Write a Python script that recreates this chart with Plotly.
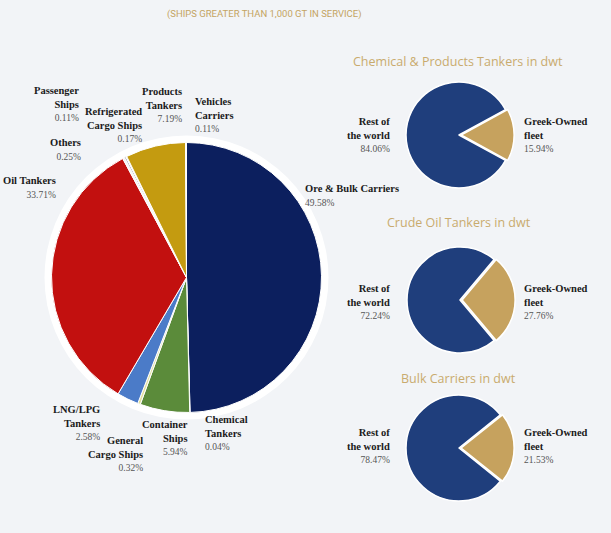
import plotly.graph_objects as go

W, H = 611, 533

# ---------------- data ----------------
fleet_categories = ["Ore & Bulk Carriers", "Chemical Tankers", "Container Ships",
                    "General Cargo Ships", "LNG/LPG Tankers", "Oil Tankers", "Others",
                    "Refrigerated Cargo Ships", "Passenger Ships", "Products Tankers",
                    "Vehicles Carriers"]
fleet_shares = [49.58, 0.04, 5.94, 0.32, 2.58, 33.71, 0.25, 0.17, 0.11, 7.19, 0.11]
fleet_label_names = ["Ore & Bulk Carriers", "Chemical<br>Tankers", "Container<br>Ships",
                     "General<br>Cargo Ships", "LNG/LPG<br>Tankers", "Oil Tankers",
                     "Others", "Refrigerated<br>Cargo Ships", "Passenger<br>Ships",
                     "Products<br>Tankers", "Vehicles<br>Carriers"]

share_categories = ["Greek-Owned fleet", "Rest of the world"]
chem_products_dwt = [15.94, 84.06]
crude_oil_dwt = [27.76, 72.24]
bulk_carriers_dwt = [21.53, 78.47]
small_titles = ["Chemical & Products Tankers in dwt", "Crude Oil Tankers in dwt",
                "Bulk Carriers in dwt"]
subtitle = "(SHIPS GREATER THAN 1,000 GT IN SERVICE)"

# ---------------- styling ----------------
BG = "#f2f4f7"
GOLD_T = "#c9ab6e"
fleet_colors = ["#0c1f5e", "#e9e9e9", "#5b8b3a", "#e2e09c", "#4b7bc8", "#c2100f",
                "#f4f4f4", "#7a7a90", "#ffffff", "#c49b10", "#e6e6e6"]
small_colors = ["#c6a25e", "#1f3e7c"]

def px_dom(cx, cy, r):
    """domain from pixel centre/radius (y measured from top)"""
    return dict(x=[(cx - r) / W, (cx + r) / W],
                y=[(H - cy - r) / H, (H - cy + r) / H])

fig = go.Figure()

# main pie
fig.add_trace(go.Pie(
    labels=fleet_categories, values=fleet_shares, sort=False,
    direction="clockwise", rotation=0,
    marker=dict(colors=fleet_colors, line=dict(color="white", width=1)),
    textinfo="none", hoverinfo="label+percent", showlegend=False,
    domain=px_dom(186.5, 277.5, 135)))

small_sets = [chem_products_dwt, crude_oil_dwt, bulk_carriers_dwt]
small_centres = [(459, 135), (460, 300), (459, 448)]
PULL = 0.04
for vals, (cx, cy) in zip(small_sets, small_centres):
    ang = vals[0] / sum(vals) * 360
    fig.add_trace(go.Pie(
        labels=share_categories, values=vals, sort=False,
        direction="clockwise", rotation=90 - ang / 2,
        pull=[PULL, 0],
        marker=dict(colors=small_colors, line=dict(color="white", width=1.5)),
        textinfo="none", hoverinfo="label+percent", showlegend=False,
        domain=px_dom(cx, cy, 53 * (1 + PULL))))

# white halo around main pie
hr = 142
fig.add_shape(type="circle", xref="paper", yref="paper", layer="below",
              x0=(186.5 - hr) / W, x1=(186.5 + hr) / W,
              y0=(H - 277.5 - hr) / H, y1=(H - 277.5 + hr) / H,
              fillcolor="white", line=dict(width=0))

NAME_FONT = dict(family="Liberation Serif", size=10.5, color="#1b1b1b")

def lab(name, pct, x, y, anchor):
    fig.add_annotation(
        text=f"<b>{name}</b><br><span style='font-size:9.5px;color:#555'>{pct:.2f}%</span>",
        x=x / W, y=1 - y / H, xref="paper", yref="paper",
        xanchor=anchor, yanchor="middle", align=anchor, showarrow=False,
        font=NAME_FONT)

# label anchor positions (pixels) for main pie labels
fleet_label_pos = [(303, 196, "left"), (203, 433, "left"), (190, 438, "right"),
                   (145, 454, "right"), (102, 423, "right"), (58, 187, "right"),
                   (83, 149, "right"), (144, 125, "right"), (81, 104, "right"),
                   (184, 105, "right"), (193, 115, "left")]
for name, val, (x, y, a) in zip(fleet_label_names, fleet_shares, fleet_label_pos):
    lab(name, val, x, y, a)

small_label_y = [135, 302, 446]
for vals, ly in zip(small_sets, small_label_y):
    lab("Rest of<br>the world", vals[1], 392, ly, "right")
    lab("Greek-Owned<br>fleet", vals[0], 522, ly, "left")

title_pos = [(458, 62), (459, 222), (458, 378)]
for t, (x, y) in zip(small_titles, title_pos):
    fig.add_annotation(text=t, x=x / W, y=1 - y / H, xref="paper", yref="paper",
                       xanchor="center", yanchor="middle", showarrow=False,
                       font=dict(family="Open Sans", size=12.5, color=GOLD_T))

fig.add_annotation(text=subtitle, x=264 / W, y=1 - 14 / H, xref="paper", yref="paper",
                   xanchor="center", yanchor="middle", showarrow=False,
                   font=dict(family="Roboto", size=9.5, color="#c4a462"))

fig.update_layout(width=W, height=H, margin=dict(l=0, r=0, t=0, b=0),
                  paper_bgcolor=BG, plot_bgcolor=BG, showlegend=False)

fig.write_html("out.html", config={"displayModeBar": False},
               post_script="document.body.style.margin='0';"
                           "document.body.style.background='%s';" % BG)
